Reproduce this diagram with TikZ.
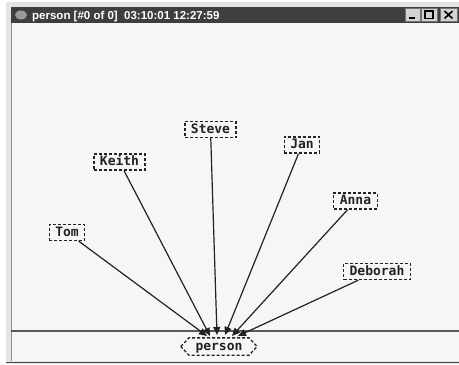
\documentclass[tikz,border=0pt]{standalone}
\usepackage{fontspec}
\setmainfont{Liberation Sans}
\newfontfamily\labfont{DejaVu Sans Mono}
\usetikzlibrary{arrows.meta}
\definecolor{bgout}{HTML}{E4E4E4}
\definecolor{titlebar}{HTML}{3E3E3E}
\definecolor{content}{HTML}{F6F6F6}
\definecolor{btn}{HTML}{D2D2D2}
\definecolor{ink}{HTML}{222222}
\tikzset{
  lab/.style={draw=ink, line width=1.3pt, dash pattern=on 3pt off 2pt,
    font=\labfont\bfseries\fontsize{13}{13}\selectfont, text=ink,
    inner xsep=6pt, inner ysep=2pt, text height=9.5pt, text depth=2.5pt},
  hub/.style={lab, draw=none},
  hubedge/.style={draw=ink, line width=1.3pt, dash pattern=on 3pt off 2pt},
  link/.style={draw=ink, line width=1.2pt, -{Triangle[length=8pt,width=7pt]}},
  winbtn/.style={fill=btn, draw=black!55, line width=0.6pt}
}
\begin{document}
\begin{tikzpicture}[x=1pt,y=-1pt]
\useasboundingbox (0,0) rectangle (459,365);
\fill[white] (0,0) rectangle (459,365);
\fill[bgout] (6,2) rectangle (459,364);
% title bar
\fill[titlebar] (11,7) rectangle (459,23);
\fill[content] (11,23) rectangle (459,361);
\draw[black!45, line width=0.8pt] (11,23) -- (11,361);
\draw[black!70, line width=1.5pt] (6,362.5) -- (459,362.5);
\fill[black!40] (21,15) ellipse (6pt and 4.5pt);
\node[anchor=base west, text=white, font=\bfseries\fontsize{11.5}{11.5}\selectfont, inner sep=0pt] (title) at (32,19.5) {person [\#0 of 0]\ \ 03:10:01 12:27:59};
% buttons
\path[winbtn] (405,8) rectangle (420,21);
\path[winbtn] (421,8) rectangle (437,21);
\path[winbtn] (440,8) rectangle (457,21);
\fill[black] (409,16.5) rectangle (415,18.5);
\draw[black, line width=1.3pt] (425,11) rectangle (433,18.5);
\draw[black, line width=1.6pt] (444.5,11) -- (452.5,18.5) (452.5,11) -- (444.5,18.5);
% separator
\draw[black!65, line width=1.6pt] (11,331) -- (459,331);
% nodes
\node[lab] (steve) at (210.5,129.5) {Steve};
\node[lab] (keith) at (119.5,162) {Keith};
\node[lab] (tom) at (67,232.5) {Tom};
\node[lab] (jan) at (302,145) {Jan};
\node[lab] (anna) at (355.5,201) {Anna};
\node[lab] (deborah) at (377,271.5) {Deborah};
\node[hub] (person) at (219,346.5) {person};
\draw[hubedge] ([xshift=-8pt]person.west) -- (person.north west) -- (person.north east)
  -- ([xshift=8pt]person.east) -- (person.south east) -- (person.south west) -- cycle;
% arrow ends
\coordinate (e1) at (207,336);
\coordinate (e2) at (210,336);
\coordinate (e3) at (217,335);
\coordinate (e4) at (225,335);
\coordinate (e5) at (232,336);
\coordinate (e6) at (238,336);
\draw[link] (tom) -- (e1);
\draw[link] (keith) -- (e2);
\draw[link] (steve) -- (e3);
\draw[link] (jan) -- (e4);
\draw[link] (anna) -- (e5);
\draw[link] (deborah) -- (e6);
\end{tikzpicture}
\end{document}
